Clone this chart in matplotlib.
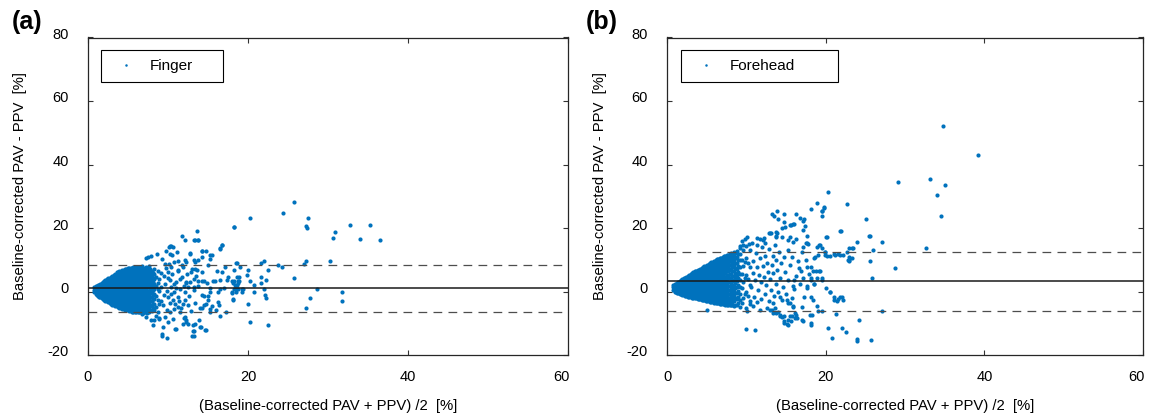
import matplotlib
matplotlib.use("Agg")
import matplotlib.pyplot as plt
import matplotlib.transforms as mtransforms
from matplotlib.lines import Line2D

plt.rcParams['font.family'] = ['Liberation Sans', 'DejaVu Sans']
plt.rcParams['axes.unicode_minus'] = False

# ---------------- data ----------------
x_ticks = [0, 20, 40, 60]
y_ticks = [-20, 0, 20, 40, 60, 80]
x_label = "(Baseline-corrected PAV + PPV) /2  [%]"
y_label = "Baseline-corrected PAV - PPV  [%]"

finger_bias, finger_loa_upper, finger_loa_lower = 1.0, 8.5, -6.4
forehead_bias, forehead_loa_upper, forehead_loa_lower = 3.2, 12.5, -6.1

# Finger: dense core, read as columns (mean value, list of differences)
finger_core = [
    (0.8, [-0.3, 0.6, 1.3]),
    (0.95, [-0.7, 0.2, 1.0, 1.6]),
    (1.1, [-1.0, -0.1, 0.8, 1.7]),
    (1.25, [-1.3, -0.5, 0.4, 1.3, 2.0]),
    (1.4, [-1.6, -0.6, 0.3, 1.2, 2.1]),
    (1.55, [-1.8, -1.1, -0.1, 0.8, 1.6, 2.4]),
    (1.7, [-2.1, -1.1, -0.2, 0.8, 1.7, 2.6]),
    (1.85, [-2.4, -1.6, -0.7, 0.3, 1.2, 2.2, 3.0]),
    (2.0, [-2.6, -1.6, -0.6, 0.4, 1.3, 2.3, 3.2]),
    (2.18, [-2.9, -2.1, -1.1, -0.1, 0.9, 1.8, 2.8, 3.5]),
    (2.35, [-3.1, -2.1, -1.1, -0.1, 0.9, 1.9, 2.9, 3.8]),
    (2.52, [-3.4, -2.6, -1.6, -0.6, 0.4, 1.4, 2.4, 3.4, 4.1]),
    (2.7, [-3.6, -2.5, -1.5, -0.5, 0.5, 1.5, 2.5, 3.5, 4.4]),
    (2.88, [-3.9, -3.1, -2.0, -1.0, 0.0, 1.0, 2.0, 3.0, 4.0, 4.7]),
    (3.05, [-4.1, -3.0, -1.9, -0.9, 0.1, 1.1, 2.1, 3.1, 4.1, 5.0]),
    (3.22, [-4.3, -3.6, -2.5, -1.4, -0.4, 0.6, 1.6, 2.6, 3.6, 4.6, 5.3]),
    (3.4, [-4.5, -3.4, -2.3, -1.3, -0.2, 0.8, 1.8, 2.9, 3.9, 4.9, 5.6]),
    (3.58, [-4.7, -4.0, -2.9, -1.9, -0.8, 0.2, 1.3, 2.3, 3.4, 4.4, 5.4, 6.0]),
    (3.75, [-4.9, -3.8, -2.7, -1.6, -0.5, 0.5, 1.6, 2.6, 3.7, 4.7, 5.7, 6.2]),
    (3.92, [-5.1, -4.4, -3.3, -2.2, -1.1, -0.1, 0.9, 2.0, 3.0, 4.1, 5.1, 6.0, 6.5]),
    (4.1, [-5.2, -4.1, -3.0, -1.9, -0.8, 0.3, 1.3, 2.4, 3.5, 4.5, 5.5, 6.4]),
    (4.28, [-5.4, -4.7, -3.6, -2.5, -1.4, -0.4, 0.7, 1.8, 2.9, 3.9, 5.0, 6.0, 6.8]),
    (4.45, [-5.5, -4.4, -3.3, -2.2, -1.1, 0.0, 1.1, 2.2, 3.3, 4.3, 5.3, 6.3, 6.9]),
    (4.62, [-5.7, -5.0, -4.0, -2.9, -1.8, -0.7, 0.4, 1.4, 2.5, 3.6, 4.7, 5.7, 6.7, 7.2]),
    (4.8, [-5.8, -4.7, -3.6, -2.5, -1.4, -0.3, 0.8, 1.9, 3.0, 4.1, 5.1, 6.1, 7.1]),
    (4.98, [-5.9, -5.3, -4.2, -3.1, -2.0, -0.9, 0.2, 1.3, 2.4, 3.5, 4.6, 5.6, 6.6, 7.3]),
    (5.15, [-6.0, -4.9, -3.8, -2.7, -1.6, -0.5, 0.6, 1.7, 2.8, 3.9, 4.9, 5.9, 6.9, 7.4]),
    (5.32, [-6.2, -5.4, -4.3, -3.2, -2.1, -1.0, 0.1, 1.2, 2.3, 3.3, 4.4, 5.4, 6.4, 7.3]),
    (5.5, [-6.3, -5.2, -4.1, -3.0, -1.9, -0.8, 0.3, 1.4, 2.5, 3.6, 4.6, 5.6, 6.6, 7.5]),
    (5.68, [-6.3, -5.7, -4.6, -3.5, -2.4, -1.3, -0.2, 0.9, 2.0, 3.0, 4.0, 5.1, 6.1, 7.1, 7.6]),
    (5.85, [-6.4, -5.3, -4.2, -3.1, -2.0, -0.9, 0.2, 1.3, 2.4, 3.5, 4.5, 5.5, 6.5, 7.6]),
    (6.02, [-6.5, -5.9, -4.9, -3.8, -2.7, -1.6, -0.5, 0.6, 1.7, 2.8, 3.9, 4.9, 5.9, 6.9, 7.7]),
    (6.2, [-6.6, -5.5, -4.4, -3.3, -2.2, -1.1, 0.0, 1.1, 2.2, 3.3, 4.4, 5.4, 6.4, 7.7]),
    (6.38, [-6.6, -6.0, -4.9, -3.8, -2.7, -1.6, -0.5, 0.6, 1.7, 2.8, 3.8, 4.9, 5.9, 7.0, 7.8]),
    (6.55, [-6.5, -5.4, -4.3, -3.2, -2.1, -1.0, 0.1, 1.2, 2.3, 3.4, 4.5, 5.6, 6.7, 7.8]),
    (6.72, [-6.6, -5.9, -4.8, -3.7, -2.6, -1.5, -0.4, 0.7, 1.8, 2.9, 3.9, 5.0, 6.1, 7.2, 7.9]),
    (6.9, [-6.7, -5.4, -4.1, -2.9, -1.8, -0.7, 0.4, 1.5, 2.6, 3.7, 4.8, 5.9, 7.0]),
    (7.08, [-6.5, -5.8, -4.7, -3.4, -2.3, -1.2, -0.1, 1.0, 2.1, 3.2, 4.3, 5.4, 6.5, 7.4]),
    (7.25, [-6.4, -5.1, -3.8, -2.6, -1.5, -0.4, 0.7, 1.8, 2.9, 4.0, 5.2, 6.4, 7.6]),
    (7.42, [-6.7, -5.7, -4.4, -3.1, -1.9, -0.8, 0.3, 1.3, 2.3, 3.4, 4.6, 5.8, 7.0]),
    (7.6, [-6.6, -5.2, -3.7, -2.3, -1.0, 0.2, 1.4, 2.6, 3.9, 5.1, 6.5, 7.9]),
    (7.78, [-5.9, -4.4, -2.9, -1.6, -0.4, 0.8, 2.0, 3.2, 4.5, 5.7, 7.2]),
    (7.95, [-6.2, -4.6, -3.1, -1.6, -0.3, 1.0, 2.3, 3.6, 5.0, 6.4]),
    (8.12, [-5.3, -3.8, -2.4, -1.0, 0.4, 1.7, 3.0, 4.3, 5.8]),
    (8.3, [-5.8, -4.0, -2.3, -0.7, 0.8, 2.3, 3.8, 5.4, 7.0]),
    (8.5, [-4.9, -1.5, 1.6, 4.6]),
    (8.7, [-6.5, -2.6, 0.9, 2.7, 6.3]),
    (8.9, [-4.0, 0.2, 4.0]),
    (9.1, [-3.0, 1.5, 5.8]),
]

# Finger: scattered points (mean, difference)
finger_spread = [
    (8.6, 11.9), (7.9, 11.2), (7.5, 11.0), (7.2, 10.6), (9.25, 10.1), (10.4, 14.2),
    (10.1, 14.0), (9.8, 12.9), (10.5, 11.4), (11.3, 9.5), (12.2, 9.3), (11.9, 7.7),
    (11.25, 6.6), (9.6, 8.7), (10.4, 7.7), (10.0, 6.1), (11.9, -3.9), (11.25, -4.9),
    (12.1, -8.1), (12.3, -9.1), (11.9, -10.2), (8.9, -8.6), (9.4, -11.2), (9.2, -13.9),
    (9.9, -14.6), (11.0, -11.8), (8.3, -9.1), (8.5, -7.6), (9.6, -8.1), (10.6, -8.6),
    (6.7, -7.0), (7.3, -8.1), (7.9, -9.1), (10.2, -6.5), (10.8, -5.5), (11.5, -6.5),
    (12.5, -4.4), (10.4, 1.4), (10.8, -0.2), (11.5, 0.9), (12.1, -0.2), (10.2, 3.5),
    (11.0, 3.0), (11.7, 4.5), (12.3, 3.0), (10.0, -1.8), (10.6, -2.8), (11.25, -1.8),
    (12.1, -2.8), (8.1, -10.4), (9.3, -13.3), (8.9, -8.3), (10.0, -9.5), (10.9, -11.8),
    (12.0, -8.3), (12.25, -9.7), (12.5, -10.2), (13.1, -10.4), (13.1, -12.5), (13.2, -13.9),
    (14.0, -11.3), (14.6, -12.1), (13.4, -10.2), (11.8, 17.4), (12.1, 16.3), (13.3, 16.3),
    (13.7, 16.3), (13.6, 18.9), (10.25, 14.3), (10.6, 14.0), (10.2, 11.7), (11.1, 12.4),
    (12.75, 11.9), (14.2, 12.7), (14.75, 12.9), (14.25, 11.0), (15.3, 11.4), (16.5, 13.5),
    (16.8, 14.8), (18.25, 20.3), (9.4, -4.2), (9.5, -1.0), (9.6, 2.5), (9.5, 4.8),
    (9.7, 7.3), (9.9, -5.8), (9.9, 0.3), (10.0, 4.2), (10.1, 8.6), (10.3, -3.5),
    (10.4, -0.8), (10.5, 5.5), (10.7, 2.3), (10.7, 9.4), (10.9, -4.0), (11.0, 1.0),
    (11.2, 6.9), (11.4, -2.9), (11.5, 3.9), (11.6, -5.3), (11.8, 8.4), (12.0, 1.6),
    (12.4, 5.6), (12.6, -1.4), (12.8, 3.1), (12.9, -6.0), (13.0, 7.2), (13.2, 0.4),
    (13.4, -3.5), (13.5, 4.8), (13.7, 9.8), (13.8, 1.7), (14.0, -5.3), (14.2, 6.1),
    (14.3, -1.2), (14.5, 3.2), (14.8, -3.8), (15.0, 8.3), (15.2, 1.1), (15.3, -6.6),
    (13.4, 16.3), (13.8, 16.3), (16.8, 14.7), (16.5, 13.6), (14.25, 12.6), (15.5, 11.6),
    (15.25, 10.1), (12.75, 12.1), (13.3, 10.0), (13.4, 9.2), (12.1, 9.8), (18.6, 8.9),
    (17.1, 7.7), (16.1, 6.5), (16.7, 6.0), (17.5, 4.6), (17.4, 3.5), (17.95, 3.4),
    (18.6, 4.5), (18.9, 3.2), (18.8, 2.6), (18.4, 2.2), (18.25, 3.2), (16.5, 3.5),
    (15.9, 3.2), (15.6, 3.2), (14.9, 2.8), (14.2, 3.2), (16.5, 0.9), (17.0, 1.0),
    (18.3, 0.9), (18.8, 0.9), (19.4, 0.9), (16.2, -0.1), (15.2, -0.3), (15.0, -1.4),
    (18.5, -0.1), (17.95, -0.2), (16.3, -3.2), (16.4, -4.3), (15.5, -4.7), (15.25, -5.6),
    (16.0, -5.7), (18.1, -2.6), (14.5, -1.4), (15.0, -2.8), (14.5, -4.1), (14.2, -5.3),
    (17.2, -6.6), (16.5, -7.8), (13.9, -9.1), (14.1, -11.3), (14.75, -12.0), (13.2, -12.3),
    (13.0, -14.1), (12.3, 2.6), (12.5, 1.4), (13.3, 1.4), (13.8, 3.2), (13.2, 4.0),
    (13.4, 7.2), (12.9, 6.1), (13.6, 6.8),
]

finger_outliers = [
    (18.3, 20.4), (20.25, 23.1), (24.4, 24.7), (25.75, 28.2), (27.5, 23.0), (27.3, 20.6),
    (27.4, 20.0), (30.6, 16.8), (30.9, 18.7), (32.8, 21.1), (34.0, 16.4), (35.2, 21.1),
    (36.5, 16.1), (30.3, 9.5), (27.2, 9.7), (27.0, 8.7), (25.7, 4.3), (28.6, 0.9),
    (31.7, 0.0), (31.75, -2.9), (27.75, -1.9), (27.3, -5.1), (22.5, -10.5), (20.2, -9.5),
    (23.7, 8.2), (24.2, 7.7), (22.0, 9.7), (21.6, 8.9), (22.5, 6.8), (22.2, 3.5),
    (21.6, 4.6), (21.6, 2.7), (20.8, 1.9), (20.7, -0.1), (22.0, 0.7), (22.1, -1.0),
    (22.2, -1.9), (20.0, -3.8), (20.0, 6.7), (19.9, 5.3), (20.2, 3.4), (19.0, 7.8),
    (18.5, 8.9), (18.2, 6.9), (18.9, 4.5), (18.8, 3.2), (18.1, 2.7), (18.6, 2.2),
    (19.3, 0.9), (19.3, -0.2), (18.0, -0.5), (18.1, -2.5), (18.5, 0.9),
]

# Forehead: dense core, read as columns (mean value, list of differences)
forehead_core = [
    (0.8, [0.4, 1.3, 2.0]),
    (0.95, [0.0, 0.9, 1.7, 2.3]),
    (1.1, [-0.2, 0.7, 1.6, 2.4]),
    (1.25, [-0.4, 0.3, 1.2, 2.0, 2.7]),
    (1.4, [-0.6, 0.3, 1.2, 2.1, 2.9]),
    (1.58, [-0.8, -0.2, 0.7, 1.6, 2.5, 3.2]),
    (1.75, [-0.9, 0.0, 0.9, 1.8, 2.7, 3.5]),
    (1.92, [-1.1, -0.5, 0.4, 1.3, 2.2, 3.1, 3.8]),
    (2.1, [-1.2, -0.3, 0.6, 1.5, 2.4, 3.3, 4.1]),
    (2.28, [-1.4, -0.8, 0.1, 1.0, 1.9, 2.8, 3.7, 4.4]),
    (2.45, [-1.5, -0.5, 0.5, 1.4, 2.3, 3.2, 4.1, 4.7]),
    (2.62, [-1.6, -1.1, -0.1, 0.9, 1.9, 2.8, 3.7, 4.6, 5.0]),
    (2.8, [-1.7, -0.7, 0.3, 1.3, 2.3, 3.3, 4.3, 5.2]),
    (2.98, [-1.8, -1.3, -0.3, 0.7, 1.7, 2.7, 3.7, 4.6, 5.5]),
    (3.15, [-1.9, -0.9, 0.1, 1.1, 2.1, 3.1, 4.1, 5.0, 5.8]),
    (3.32, [-2.0, -1.5, -0.5, 0.5, 1.5, 2.5, 3.5, 4.5, 5.4, 6.1]),
    (3.5, [-2.1, -1.1, -0.1, 0.9, 1.9, 2.9, 3.9, 4.9, 5.8, 6.3]),
    (3.68, [-2.2, -1.7, -0.7, 0.3, 1.3, 2.3, 3.3, 4.3, 5.3, 6.2, 6.6]),
    (3.85, [-2.3, -1.3, -0.3, 0.7, 1.7, 2.7, 3.7, 4.7, 5.7, 6.7]),
    (4.02, [-2.4, -1.9, -0.9, 0.1, 1.1, 2.1, 3.1, 4.1, 5.1, 6.1, 6.9]),
    (4.2, [-2.5, -1.5, -0.5, 0.5, 1.5, 2.5, 3.5, 4.5, 5.5, 6.4, 7.2]),
    (4.38, [-2.6, -2.0, -1.0, 0.0, 1.0, 2.0, 3.0, 4.0, 5.0, 6.0, 6.9, 7.5]),
    (4.55, [-2.7, -1.7, -0.7, 0.3, 1.3, 2.3, 3.3, 4.3, 5.3, 6.3, 7.2, 7.8]),
    (4.72, [-2.8, -2.2, -1.2, -0.2, 0.8, 1.8, 2.8, 3.8, 4.8, 5.8, 6.7, 7.6, 8.0]),
    (4.9, [-2.9, -1.9, -0.9, 0.1, 1.1, 2.1, 3.1, 4.1, 5.1, 6.1, 7.1, 8.1]),
    (5.08, [-3.0, -2.4, -1.4, -0.4, 0.6, 1.6, 2.6, 3.6, 4.6, 5.6, 6.6, 7.6, 8.4]),
    (5.25, [-3.1, -2.1, -1.1, -0.1, 0.9, 1.9, 2.9, 3.9, 4.9, 5.9, 6.9, 7.9, 8.7]),
    (5.42, [-3.2, -2.6, -1.6, -0.6, 0.4, 1.4, 2.4, 3.4, 4.4, 5.4, 6.4, 7.4, 8.3, 9.0]),
    (5.6, [-3.3, -2.3, -1.3, -0.3, 0.7, 1.7, 2.7, 3.7, 4.7, 5.7, 6.7, 7.7, 8.6, 9.2]),
    (5.78, [-3.4, -2.8, -1.8, -0.8, 0.2, 1.2, 2.2, 3.2, 4.2, 5.2, 6.2, 7.2, 8.1, 9.0, 9.4]),
    (5.95, [-3.5, -2.5, -1.5, -0.5, 0.5, 1.5, 2.5, 3.5, 4.5, 5.5, 6.5, 7.5, 8.5, 9.6]),
    (6.12, [-3.6, -3.0, -2.0, -1.0, 0.0, 1.0, 2.0, 3.0, 4.0, 5.0, 6.0, 7.0, 8.0, 8.9, 9.8]),
    (6.3, [-3.7, -2.6, -1.6, -0.6, 0.4, 1.4, 2.4, 3.4, 4.4, 5.4, 6.4, 7.4, 8.4, 9.3, 10.1]),
    (6.48, [-3.7, -3.1, -2.1, -1.1, -0.1, 0.9, 1.9, 2.9, 3.9, 4.9, 5.9, 6.9, 7.9, 8.9, 9.8, 10.3]),
    (6.65, [-3.8, -2.8, -1.8, -0.8, 0.2, 1.2, 2.2, 3.2, 4.2, 5.2, 6.2, 7.2, 8.2, 9.2, 10.4]),
    (6.82, [-3.9, -3.3, -2.3, -1.3, -0.3, 0.7, 1.7, 2.7, 3.7, 4.7, 5.7, 6.7, 7.7, 8.7, 9.7, 10.6]),
    (7.0, [-4.0, -2.9, -1.9, -0.9, 0.1, 1.1, 2.1, 3.1, 4.1, 5.1, 6.1, 7.1, 8.1, 9.1, 10.1, 10.9]),
    (7.18, [-4.0, -3.5, -2.4, -1.4, -0.3, 0.7, 1.7, 2.7, 3.7, 4.7, 5.7, 6.7, 7.7, 8.7, 9.7, 10.7, 11.1]),
    (7.35, [-4.1, -3.0, -1.9, -0.8, 0.3, 1.4, 2.5, 3.6, 4.7, 5.8, 6.9, 8.0, 9.1, 10.2, 11.2]),
    (7.52, [-4.2, -3.6, -2.5, -1.3, -0.2, 0.9, 2.0, 3.1, 4.2, 5.3, 6.4, 7.5, 8.6, 9.7, 10.8, 11.5]),
    (7.7, [-4.3, -3.1, -1.9, -0.7, 0.5, 1.7, 2.9, 4.1, 5.3, 6.5, 7.7, 8.9, 10.1, 11.4]),
    (7.88, [-4.3, -3.5, -2.2, -0.9, 0.4, 1.7, 3.0, 4.3, 5.6, 6.9, 8.2, 9.5, 10.8, 11.9]),
    (8.05, [-4.2, -2.8, -1.4, 0.0, 1.4, 2.8, 4.2, 5.6, 7.0, 8.4, 9.8, 11.2, 12.2]),
    (8.22, [-4.4, -3.4, -2.1, -0.7, 0.7, 2.1, 3.5, 4.9, 6.3, 7.7, 9.1, 10.5, 11.8]),
    (8.4, [-4.6, -3.0, -1.4, 0.2, 1.8, 3.4, 5.0, 6.6, 8.2, 9.8, 11.4, 12.5]),
    (8.6, [-4.2, -2.2, -0.6, 1.0, 2.6, 4.2, 5.8, 7.4, 9.0, 10.6, 12.2]),
    (8.8, [-4.4, -2.5, -0.6, 1.3, 3.2, 5.1, 7.0, 8.9, 10.8, 12.7]),
    (9.0, [-3.6, -1.6, 0.3, 2.2, 4.1, 6.0, 7.9, 9.8, 11.7]),
    (9.2, [-4.9, -2.8, -0.7, 1.4, 3.5, 5.6, 7.7, 9.8, 11.9, 13.6]),
    (9.4, [-3.5, 1.0, 5.4, 9.8]),
    (9.6, [-2.0, 3.0, 8.0, 13.0]),
    (9.8, [-0.7, 4.4, 9.3]),
    (10.0, [-5.2, 0.0, 5.2, 10.4, 14.3]),
    (10.2, [-1.5, 3.8, 9.1]),
    (10.4, [-3.8, 2.0, 7.8, 13.2]),
]

forehead_spread = [
    (10.1, 17.2), (11.3, 16.7), (11.7, 16.4), (12.1, 16.2), (12.4, 15.2), (9.2, 14.4),
    (9.6, 14.6), (12.8, 18.3), (13.0, 18.3), (13.9, 18.5), (13.7, 17.2), (13.2, 24.3),
    (13.5, 23.8), (13.9, 25.4), (14.75, 24.3), (16.3, 24.5), (16.8, 23.2), (17.3, 22.8),
    (14.8, 21.8), (14.9, 20.3), (15.6, 21.1), (16.0, 21.3), (18.1, 26.0), (18.9, 27.9),
    (19.5, 25.4), (19.6, 23.7), (19.8, 26.5), (17.2, 22.3), (17.4, 20.6), (17.1, 19.3),
    (14.0, 22.7), (15.9, 21.4), (15.5, 20.9), (14.5, 19.9), (13.8, 18.8), (13.1, 18.5),
    (13.7, 17.5), (14.5, 17.1), (15.5, 17.2), (16.3, 16.6), (15.9, 15.7), (15.3, 16.2),
    (17.6, 17.5), (17.5, 15.2), (17.8, 14.9), (19.1, 14.5), (20.2, 17.1), (19.6, 13.6),
    (21.9, 19.0), (25.6, 17.5), (23.9, 15.5), (23.4, 13.6), (22.9, 13.6), (26.0, 13.1),
    (25.6, 9.5), (22.9, 11.0), (23.0, 9.6), (23.3, 10.5), (22.8, 9.9), (21.2, 11.4),
    (21.8, 11.5), (20.6, 11.2), (20.2, 11.2), (19.9, 12.5), (19.0, 11.4), (18.5, 10.5),
    (18.7, 11.0), (19.2, 6.5), (18.8, 6.5), (19.5, 4.3), (18.1, 4.1), (18.5, 2.3),
    (17.7, 1.2), (20.0, 1.1), (20.5, -0.2), (22.0, -1.6), (21.6, -2.4), (21.0, -2.8),
    (18.2, -1.6), (19.0, -6.0), (18.3, -7.3), (18.1, -9.9), (17.1, -9.2), (21.3, -7.1),
    (14.75, -9.9), (15.3, -10.7), (15.6, -9.4), (16.1, -8.3), (16.3, -7.3), (15.5, -7.8),
    (14.8, -7.8), (14.2, -7.3), (14.5, -8.0), (13.4, -6.8), (13.2, -5.7), (13.65, -5.2),
    (14.05, -6.3), (17.0, -5.0), (15.9, -4.7), (15.5, -3.6), (15.7, -2.1), (15.1, -2.6),
    (14.25, -1.6), (16.05, 3.7), (17.2, 4.2), (15.9, 1.8), (16.6, 7.3), (16.9, 6.5),
    (17.6, 7.8), (18.2, 7.6), (20.1, 17.2), (10.0, -11.9), (11.1, -12.2), (5.0, -5.8),
    (13.0, -5.7), (13.8, -6.8), (14.25, -7.8), (14.75, -9.4), (15.1, -10.1), (15.3, -8.9),
    (15.7, -7.8), (16.1, -6.8), (16.4, -8.3), (15.9, -4.9), (15.3, -3.6), (14.5, -2.6),
    (13.4, -3.6), (12.6, -5.2), (11.7, -5.7), (10.9, -4.7), (11.3, -3.4), (10.05, -6.0),
    (10.5, -3.1), (17.0, -9.1), (18.0, -7.3), (18.2, -10.4), (18.4, -2.6), (18.9, -4.7),
    (19.6, -6.0), (20.6, -0.3), (21.0, -1.6), (21.8, -1.8), (22.2, -2.6), (21.4, -3.1),
    (19.3, 6.6), (18.4, 6.3), (18.9, 4.2), (19.5, 3.7), (18.1, 3.7), (17.6, 1.6),
    (18.5, 2.4), (19.9, 11.5), (21.0, 11.8), (21.6, 11.8), (22.2, 11.5), (22.7, 12.5),
    (23.3, 13.8), (22.9, 9.9), (18.9, 14.1), (19.3, 14.6), (17.6, 15.2), (17.2, 14.1),
    (19.8, 26.3), (19.5, 25.3),
    (10.6, 1.3), (10.8, 5.9), (10.9, 9.6), (11.0, -1.6), (11.1, 3.7), (11.2, 12.1),
    (11.3, 7.6), (11.5, 0.4), (11.6, 5.2), (11.7, 10.4), (11.8, -2.3), (11.9, 2.9),
    (12.0, 14.0), (12.1, 7.9), (12.2, 4.6), (12.3, -0.8), (12.4, 11.2), (12.5, 2.0),
    (12.6, 9.1), (12.7, 6.0), (12.8, -3.0), (12.9, 13.3), (13.0, 3.8), (13.1, 0.6),
    (13.2, 8.4), (13.3, 11.3), (13.4, 5.7), (13.5, -1.5), (13.6, 14.6), (13.7, 2.5),
    (13.8, 9.9), (13.9, 6.7), (14.0, 0.0), (14.1, 12.4), (14.2, 4.4), (14.4, 8.9),
    (14.6, 1.5), (14.7, 10.8), (14.9, 6.0), (15.0, -0.8), (15.2, 13.1), (15.3, 3.5),
    (15.5, 8.4), (15.8, 11.0), (16.0, 0.9), (16.2, 5.0), (16.5, 9.7), (16.8, 2.4),
    (17.0, 12.3), (17.3, -1.7), (17.5, 10.0), (17.9, 5.6), (9.4, 15.8), (9.8, 16.4),
    (10.3, 14.9), (10.7, 15.4), (11.4, 14.6), (12.2, 17.0),
]

forehead_outliers = [
    (34.8, 52.2), (39.2, 43.1), (29.1, 34.5), (33.1, 35.4), (35.0, 33.4), (34.0, 30.5),
    (34.6, 23.9), (27.1, 15.7), (32.6, 13.8), (28.7, 7.3), (27.1, -6.0), (25.1, 22.7),
    (25.5, 17.5), (24.2, -8.9), (25.7, -15.4), (23.9, -15.5), (24.0, -15.1), (20.8, -14.8),
    (22.1, -11.6), (22.5, -12.7), (20.3, -11.4), (25.9, 4.3), (21.8, 19.1), (20.3, 31.2),
    (22.7, 27.7), (19.9, 12.5),
]

legend_labels = ["Finger", "Forehead"]
panel_letters = ["(a)", "(b)"]

# ---------------- drawing ----------------
BLUE = "#0072BD"
W, H = 1149, 418


def unpack(core, *pair_lists):
    xs, ys = [], []
    for x, yl in core:
        for y in yl:
            xs.append(x)
            ys.append(y)
    for pl in pair_lists:
        for x, y in pl:
            xs.append(x)
            ys.append(y)
    return xs, ys


fig = plt.figure(figsize=(W / 100, H / 100), dpi=100)

panels = [
    dict(left=88, right=568, core=finger_core, spread=finger_spread, out=finger_outliers,
         bias=finger_bias, up=finger_loa_upper, lo=finger_loa_lower,
         leg=(101, 223), ylab_x=20, letter_x=27),
    dict(left=667, right=1143, core=forehead_core, spread=forehead_spread, out=forehead_outliers,
         bias=forehead_bias, up=forehead_loa_upper, lo=forehead_loa_lower,
         leg=(681, 838), ylab_x=600, letter_x=602),
]
top_px, bot_px = 37.5, 355

for i, p in enumerate(panels):
    ax = fig.add_axes([p['left'] / W, 1 - bot_px / H, (p['right'] - p['left']) / W,
                       (bot_px - top_px) / H])
    xs, ys = unpack(p['core'], p['spread'], p['out'])
    ax.scatter(xs, ys, s=9, c=BLUE, linewidths=0, zorder=2)
    ax.axhline(p['bias'], color='#1a1a1a', lw=1.1, zorder=3)
    for v in (p['up'], p['lo']):
        ax.axhline(v, color='#4d4d4d', lw=0.9, dashes=(7, 5), zorder=3)
    ax.set_xlim(0, 60)
    ax.set_ylim(-20, 80)
    ax.set_xticks(x_ticks)
    ax.set_yticks(y_ticks)
    ax.tick_params(direction='in', top=True, right=True, length=3.6, width=0.8,
                   colors='#333333', labelcolor='black', labelsize=10.5)
    ax.tick_params(axis='y', pad=14)
    ax.tick_params(axis='x', pad=11)
    for sp in ax.spines.values():
        sp.set_color('#262626')
        sp.set_linewidth(0.9)
    offy = mtransforms.ScaledTranslation(0, 4 / 100, fig.dpi_scale_trans)
    for lab in ax.get_yticklabels():
        lab.set_transform(lab.get_transform() + offy)
    offx = mtransforms.ScaledTranslation(-7 / 100, 0, fig.dpi_scale_trans)
    last = ax.get_xticklabels()[-1]
    last.set_transform(last.get_transform() + offx)

    # legend
    aw = p['right'] - p['left']
    ah = bot_px - top_px
    lx0 = (p['leg'][0] - p['left']) / aw
    lw_ = (p['leg'][1] - p['leg'][0]) / aw
    ly1 = (bot_px - 50) / ah
    ly0 = (bot_px - 85) / ah
    h = Line2D([], [], ls='none', marker='o', markersize=1.8, markeredgewidth=0,
               color=BLUE, label=legend_labels[i])
    leg = ax.legend(handles=[h], loc='upper left', bbox_to_anchor=(lx0, ly0, lw_, ly1 - ly0),
                    mode='expand', borderaxespad=0, fontsize=11, frameon=True, fancybox=False,
                    edgecolor='black', framealpha=1, borderpad=0.6, handlelength=2.1,
                    handletextpad=0.5, numpoints=1)
    leg.get_frame().set_linewidth(0.8)

    # axis labels
    cx = (p['left'] + p['right']) / 2
    fig.text(cx / W, 1 - 406 / H, x_label, ha='center', va='center', fontsize=10.7)
    fig.text(p['ylab_x'] / W, 1 - 186 / H, y_label, rotation=90,
             ha='center', va='center', fontsize=10.7)
    fig.text(p['letter_x'] / W, 1 - 22 / H, panel_letters[i], ha='center', va='center',
             fontsize=18, fontweight='bold')

fig.savefig("out.png", dpi=100)
